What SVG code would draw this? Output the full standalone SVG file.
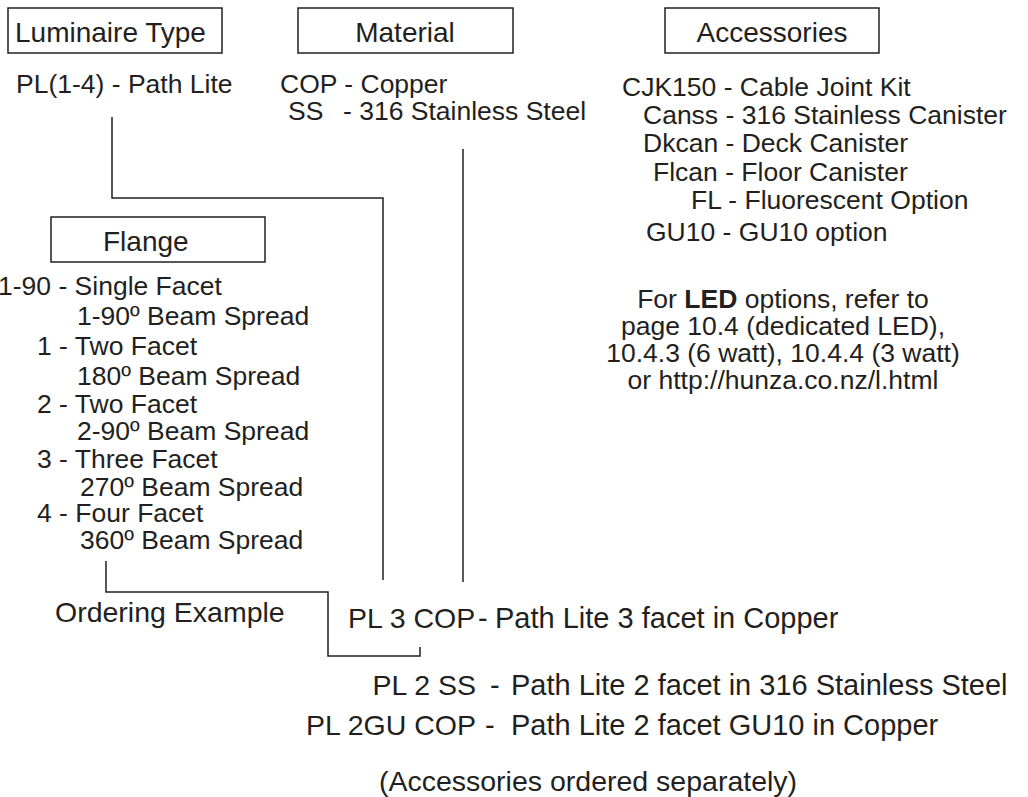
<svg xmlns="http://www.w3.org/2000/svg" width="1028" height="797" viewBox="0 0 1028 797">
<style>
text{font-family:"Liberation Sans",Arial,sans-serif;fill:#231f20;font-size:26.5px}
.h{font-size:28px}
.b{font-size:28.5px}
.r{font-size:29px}
.box{fill:#fff;stroke:#231f20;stroke-width:1.5}
.c{fill:none;stroke:#231f20;stroke-width:1.5}
</style>
<rect width="1028" height="797" fill="#fff"/>
<g id="luminaire">
<rect class="box" x="8" y="8" width="214" height="45"/>
<text class="h" x="15" y="42">Luminaire Type</text>
<text x="16" y="93">PL(1-4) - Path Lite</text>
</g>
<g id="material">
<rect class="box" x="298" y="8" width="215" height="45"/>
<text class="h" x="405" y="42" text-anchor="middle">Material</text>
<text x="280" y="93">COP - Copper</text>
<text y="120"><tspan x="288">SS</tspan><tspan x="343">- 316 Stainless Steel</tspan></text>
</g>
<g id="accessories">
<rect class="box" x="665" y="8" width="214" height="45"/>
<text class="h" x="772" y="42" text-anchor="middle">Accessories</text>
<text x="622" y="96">CJK150 - Cable Joint Kit</text>
<text x="643" y="124">Canss - 316 Stainless Canister</text>
<text x="643" y="152">Dkcan - Deck Canister</text>
<text x="653" y="181">Flcan - Floor Canister</text>
<text x="691" y="209">FL - Fluorescent Option</text>
<text x="646" y="241">GU10 - GU10 option</text>
</g>
<g id="led-note" text-anchor="middle">
<text x="783" y="308">For <tspan font-weight="bold">LED</tspan> options, refer to</text>
<text x="783" y="335">page 10.4 (dedicated LED),</text>
<text x="783" y="362">10.4.3 (6 watt), 10.4.4 (3 watt)</text>
<text x="783" y="389">or http://hunza.co.nz/l.html</text>
</g>
<g id="flange">
<rect class="box" x="51" y="217" width="214" height="45"/>
<text class="h" x="103" y="251">Flange</text>
<text x="-2" y="295">1-90 - Single Facet</text>
<text x="77" y="325">1-90º Beam Spread</text>
<text x="37" y="355">1 - Two Facet</text>
<text x="77" y="385">180º Beam Spread</text>
<text x="37" y="413">2 - Two Facet</text>
<text x="77" y="440">2-90º Beam Spread</text>
<text x="37" y="468">3 - Three Facet</text>
<text x="80" y="496">270º Beam Spread</text>
<text x="37" y="522">4 - Four Facet</text>
<text x="80" y="549">360º Beam Spread</text>
</g>
<g id="connectors">
<path class="c" d="M112 117V198H383V580"/>
<path class="c" d="M463 149V582"/>
<path class="c" d="M106 561V592H328V656H420V647"/>
</g>
<g id="ordering">
<text class="b" x="55" y="622">Ordering Example</text>
<text class="b" x="348" y="628" font-size="27">PL 3 COP</text>
<text class="r" x="478" y="628">-</text>
<text class="r" x="495" y="628" font-size="29.5">Path Lite 3 facet in Copper</text>
<text class="b" x="476" y="695" text-anchor="end">PL 2 SS</text>
<text class="r" x="490" y="695">-</text>
<text class="r" x="511" y="695">Path Lite 2 facet in 316 Stainless Steel</text>
<text class="b" x="476" y="735" text-anchor="end">PL 2GU COP</text>
<text class="r" x="485" y="735">-</text>
<text class="r" x="511" y="735">Path Lite 2 facet GU10 in Copper</text>
<text class="b" x="588" y="791" text-anchor="middle">(Accessories ordered separately)</text>
</g>
</svg>
